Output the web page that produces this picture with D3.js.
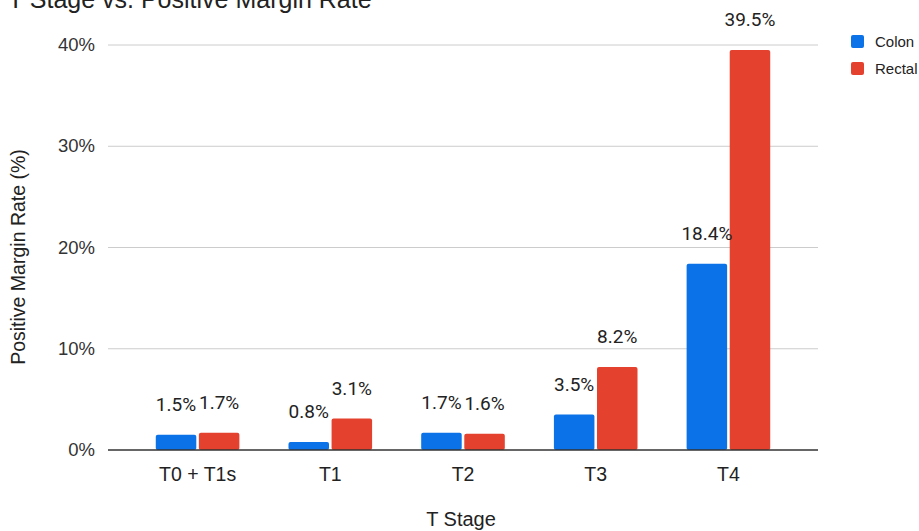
<!DOCTYPE html>
<html>
<head>
<meta charset="utf-8">
<script src="https://cdn.jsdelivr.net/npm/d3@7/dist/d3.min.js"></script>
<style>
  html, body { margin: 0; padding: 0; background: #fff; }
  svg { display: block; font-family: Arial, "Liberation Sans", sans-serif; }
</style>
</head>
<body>
<svg id="chart" width="919" height="531"></svg>
<script>
// T stage categories and positive margin rates (%) per tumour site
const stages = ["T0 + T1s", "T1", "T2", "T3", "T4"];
const colonRates = [1.5, 0.8, 1.7, 3.5, 18.4];
const rectalRates = [1.7, 3.1, 1.6, 8.2, 39.5];
const seriesNames = ["Colon", "Rectal"];
const seriesColors = ["#0b72e7", "#e5412f"];
const yTicks = [0, 10, 20, 30, 40];

const svg = d3.select("#chart");
const plotLeft = 108, plotRight = 818, plotTop = 45, plotBottom = 450;
const sans = "Arial, 'Liberation Sans', sans-serif";

const x = d3.scaleBand().domain(stages).range([plotLeft, plotRight])
  .paddingInner(0.37).paddingOuter(0.36);
const xs = d3.scaleBand().domain(seriesNames).range([0, x.bandwidth()]).paddingInner(0.06);
const y = d3.scaleLinear().domain([0, 40]).range([plotBottom, plotTop]);

// horizontal gridlines
svg.append("g").selectAll("line").data(yTicks.filter(t => t > 0)).join("line")
  .attr("x1", plotLeft).attr("x2", plotRight)
  .attr("y1", d => y(d)).attr("y2", d => y(d))
  .attr("stroke", "#cccccc").attr("stroke-width", 1);

// y axis labels
const yAxis = d3.axisLeft(y).tickValues(yTicks).tickFormat(d => d + "%").tickSize(0).tickPadding(13);
svg.append("g").attr("transform", `translate(${plotLeft},0)`).call(yAxis)
  .call(g => g.select(".domain").remove())
  .call(g => g.selectAll("text").attr("font-size", 18.5).attr("fill", "#333")
    .attr("font-family", sans).attr("dy", "0.3em"));

const rows = stages.map((s, i) => ({ stage: s, values: [colonRates[i], rectalRates[i]] }));

const groups = svg.append("g").selectAll("g").data(rows).join("g")
  .attr("transform", d => `translate(${x(d.stage)},0)`);

groups.selectAll("rect").data(d => d.values.map((v, k) => ({ v, k }))).join("rect")
  .attr("x", d => xs(seriesNames[d.k]))
  .attr("width", xs.bandwidth())
  .attr("y", d => y(d.v))
  .attr("height", d => y(0) - y(d.v))
  .attr("rx", 2)
  .attr("fill", d => seriesColors[d.k]);

// value labels above bars
groups.selectAll("text").data(d => d.values.map((v, k) => ({ v, k }))).join("text")
  .attr("x", d => xs(seriesNames[d.k]) + xs.bandwidth() / 2)
  .attr("y", d => y(d.v) - 24)
  .attr("text-anchor", "middle")
  .attr("font-family", "Roboto, Arial, sans-serif")
  .attr("font-size", 19).attr("fill", "#222")
  .text(d => d.v.toFixed(1) + "%");

// baseline
svg.append("line").attr("x1", plotLeft).attr("x2", plotRight)
  .attr("y1", y(0)).attr("y2", y(0)).attr("stroke", "#333").attr("stroke-width", 1.5);

// x axis labels
const xAxis = d3.axisBottom(x).tickSize(0).tickPadding(17);
svg.append("g").attr("transform", `translate(0,${plotBottom})`).call(xAxis)
  .call(g => g.select(".domain").remove())
  .call(g => g.selectAll("text").attr("font-size", 19.5).attr("fill", "#222")
    .attr("font-family", sans));

// titles
svg.append("text").attr("x", 8).attr("y", 8).attr("font-size", 25).attr("fill", "#222")
  .text("T Stage vs. Positive Margin Rate");
svg.append("text").attr("x", 461).attr("y", 526).attr("text-anchor", "middle")
  .attr("font-size", 20).attr("fill", "#222").text("T Stage");
svg.append("text").attr("transform", "translate(25,257) rotate(-90)")
  .attr("text-anchor", "middle").attr("font-size", 19.5).attr("fill", "#222")
  .text("Positive Margin Rate (%)");

// legend
const legend = svg.append("g").selectAll("g").data(seriesNames).join("g")
  .attr("transform", (d, i) => `translate(851,${35 + i * 27})`);
legend.append("rect").attr("width", 13).attr("height", 13).attr("rx", 2)
  .attr("fill", (d, i) => seriesColors[i]);
legend.append("text").attr("x", 24).attr("y", 12).attr("font-size", 15).attr("fill", "#222")
  .text(d => d);
</script>
</body>
</html>
